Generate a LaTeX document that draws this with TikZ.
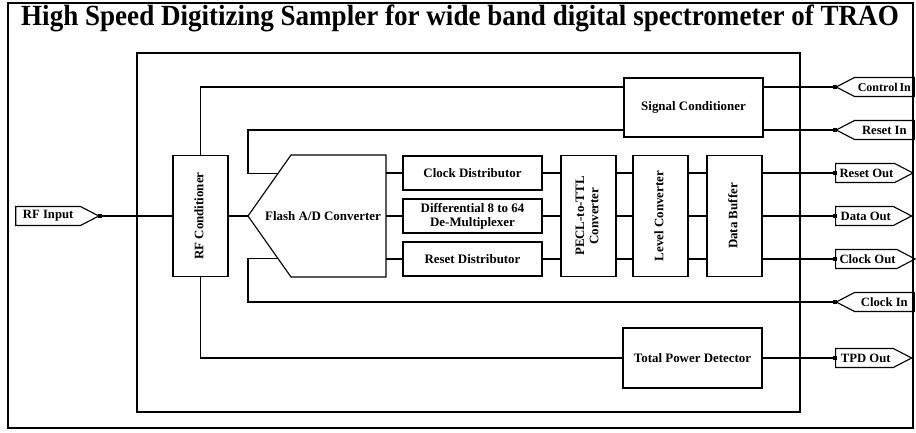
\documentclass[tikz,border=0pt]{standalone}
\usepackage{fontspec}
\setmainfont{Liberation Serif}
\usetikzlibrary{shapes.symbols,calc}
\tikzset{
  sz/.style 2 args={minimum width=#1*0.75pt, minimum height=#2*0.75pt},
  blk/.style={draw, line width=0.85pt, inner sep=0pt, align=center,
    font=\bfseries\fontsize{9.7}{10.7}\selectfont},
  wire/.style={line width=0.85pt},
  tagout/.style={draw, line width=0.85pt, signal, signal to=east, signal pointer angle=55,
    sz={76}{19}, inner xsep=1pt, inner ysep=1.5pt, font=\bfseries\fontsize{9.5}{10.5}\selectfont},
  tagin/.style={draw, line width=0.85pt, signal, signal to=west, signal pointer angle=55,
    sz={78}{19}, inner xsep=1pt, inner ysep=1.5pt, font=\bfseries\fontsize{9.5}{10.5}\selectfont},
  jct/.style={fill, inner sep=0pt, minimum size=3.5pt},
}
\newcommand{\vtext}[1]{\rotatebox{90}{\begin{tabular}{@{}c@{}}#1\end{tabular}}}
\begin{document}
\begin{tikzpicture}[x=0.75pt,y=-0.75pt]
\useasboundingbox (0,0) rectangle (916,432);
% outer frame and title
\node[draw, line width=2pt, sz={905}{425}, inner sep=0pt] (frame) at (460.5,215.5) {};
\node (title) at (460,18) {\scalebox{1}[1.08]{\fontsize{20.3}{24}\selectfont\bfseries High Speed Digitizing Sampler for wide band digital spectrometer of TRAO}};
% inner box
\node[draw, line width=0.85pt, sz={663}{359}, inner sep=0pt] (inner) at (468.5,232.5) {};
% blocks
\node[blk, sz={55}{121}] (rfc) at (200.5,216) {\vtext{RF Conditioner}};
\coordinate (adctip) at (248,216);
\coordinate (adcTL) at (291,155);
\coordinate (adcBL) at (291,277);
\coordinate (adcTR) at (386,155);
\coordinate (adcBR) at (386,277);
\coordinate (adcR) at (386,216);
\draw[wire] (adctip) -- (adcTL) -- (adcTR) -- (adcBR) -- (adcBL) -- cycle;
\node[font=\bfseries\fontsize{9.7}{10.7}\selectfont] (adc) at (323,216) {Flash A/D Converter};
\coordinate (adcin1) at ($(adctip)!0.7!(adcTL)$);
\coordinate (adcin2) at ($(adctip)!0.7!(adcBL)$);
\node[blk, sz={139}{34}] (clk) at (472.5,173) {Clock Distributor};
\node[blk, sz={139}{34}] (dmx) at (472.5,216) {Differential 8 to 64\\De-Multiplexer};
\node[blk, sz={139}{34}] (rst) at (472.5,259) {Reset Distributor};
\node[blk, sz={55}{121}] (pecl) at (588.5,216) {\vtext{PECL-to-TTL\\Converter}};
\node[blk, sz={55}{121}] (lvl) at (660.5,216) {\vtext{Level Converter}};
\node[blk, sz={55}{121}] (dbuf) at (734.5,216) {\vtext{Data Buffer}};
\node[blk, sz={139}{59}] (sig) at (693.5,107.5) {Signal Conditioner};
\node[blk, sz={139}{60}] (tpd) at (692.5,358) {Total Power Detector};
% tags
\node[tagout, anchor=east, sz={83}{19}] (rfin) at (100,216) {RF Input\hspace{8pt}};
\node[tagin, anchor=west, font=\bfseries\fontsize{9}{10}\selectfont] (ctl) at (835,87) {Control\,In\hspace{-2pt}};
\node[tagin, anchor=west] (rsti) at (835,130) {Reset In\hspace{8pt}};
\node[tagout, anchor=west] (rsto) at (835,173) {\hspace{2pt}Reset Out};
\node[tagout, anchor=west] (dout) at (835,216) {\hspace{2pt}Data Out\hspace{2pt}};
\node[tagout, anchor=west] (cout) at (835,259) {\hspace{2pt}Clock Out};
\node[tagin, anchor=west] (clki) at (835,302) {Clock In\hspace{8pt}};
\node[tagout, anchor=west] (tpdo) at (835,358) {\hspace{2pt}TPD Out\hspace{5pt}};
% junction squares
\node[jct] (j0) at (rfin.east) {};
\node[jct] (j1) at (ctl.west) {};
\node[jct] (j2) at (rsti.west) {};
\node[jct] (j3) at (rsto.west) {};
\node[jct] (j4) at (dout.west) {};
\node[jct] (j5) at (cout.west) {};
\node[jct] (j6) at (clki.west) {};
\node[jct] (j7) at (tpdo.west) {};
% wires
\draw[wire] (rfin.east) -- (rfc.west);
\draw[wire] (rfc.east) -- (adctip);
\draw[wire] (rfc.north) |- (sig.west |- ctl.west);
\draw[wire] (sig.east |- ctl.west) -- (ctl.west);
\draw[wire] (rsti.west) -- (sig.east |- rsti.west);
\draw[wire] (sig.west |- rsti.west) -| (adctip |- adcin1) -- (adcin1);
\draw[wire] (clki.west) -| (adctip |- adcin2) -- (adcin2);
\draw[wire] (rfc.south) |- (tpd.west);
\draw[wire] (tpd.east) -- (tpdo.west);
\draw[wire] (adcR |- clk.west) -- (clk.west);
\draw[wire] (adcR |- dmx.west) -- (dmx.west);
\draw[wire] (adcR |- rst.west) -- (rst.west);
\draw[wire] (clk.east) -- (pecl.west |- clk.east);
\draw[wire] (dmx.east) -- (pecl.west |- dmx.east);
\draw[wire] (rst.east) -- (pecl.west |- rst.east);
\draw[wire] (pecl.east |- clk.east) -- (lvl.west |- clk.east);
\draw[wire] (pecl.east |- dmx.east) -- (lvl.west |- dmx.east);
\draw[wire] (pecl.east |- rst.east) -- (lvl.west |- rst.east);
\draw[wire] (lvl.east |- clk.east) -- (dbuf.west |- clk.east);
\draw[wire] (lvl.east |- dmx.east) -- (dbuf.west |- dmx.east);
\draw[wire] (lvl.east |- rst.east) -- (dbuf.west |- rst.east);
\draw[wire] (dbuf.east |- rsto.west) -- (rsto.west);
\draw[wire] (dbuf.east |- dout.west) -- (dout.west);
\draw[wire] (dbuf.east |- cout.west) -- (cout.west);
\end{tikzpicture}
\end{document}
